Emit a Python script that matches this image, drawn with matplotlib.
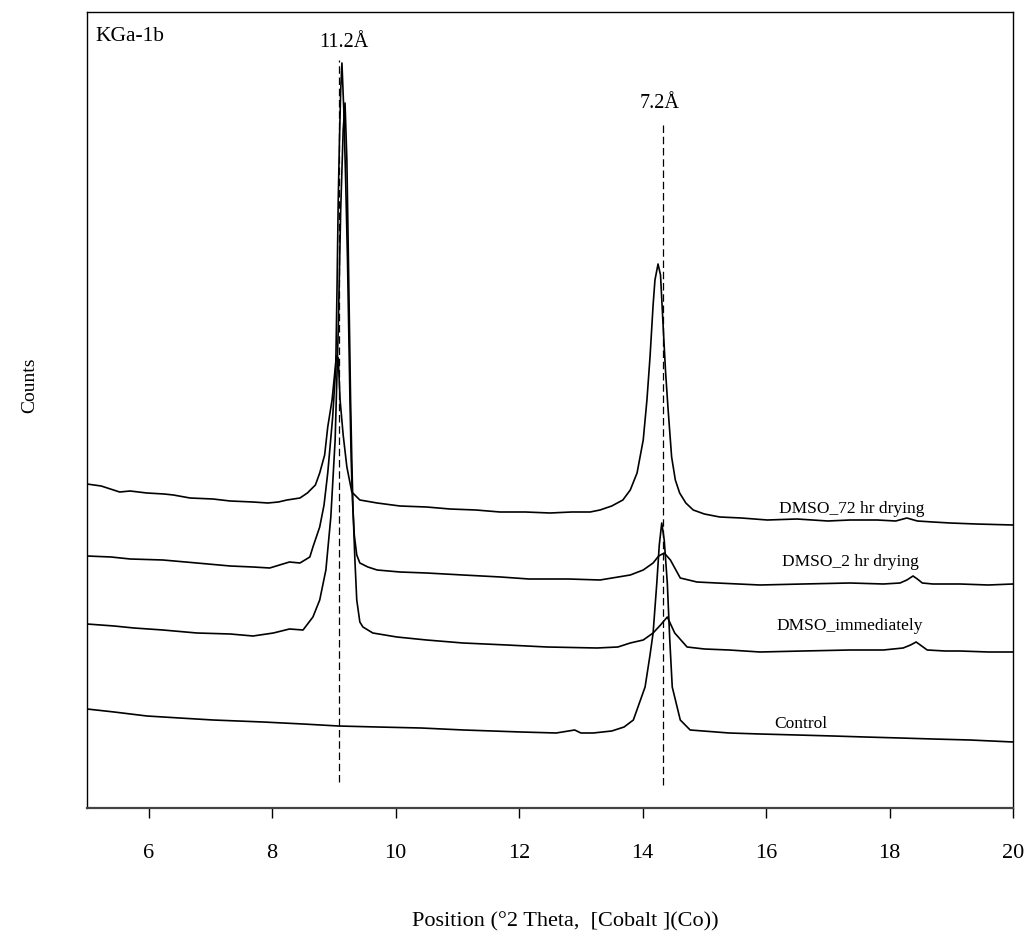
import numpy as np
import matplotlib
matplotlib.use("Agg")
import matplotlib.pyplot as plt

# values (counts are arbitrary, traces already stacked)
theta_72hr = [5.00, 5.23, 5.53, 5.70, 5.97, 6.25, 6.40, 6.67, 7.04, 7.32, 7.69, 7.93, 8.10, 8.24,
              8.45, 8.57, 8.70, 8.77, 8.85, 8.90, 8.97, 9.01, 9.04, 9.07, 9.10, 9.15, 9.21, 9.29,
              9.42, 9.70, 10.07, 10.50, 10.88, 11.30, 11.69, 12.10, 12.50, 12.85, 13.15, 13.31,
              13.50, 13.68, 13.80, 13.91, 14.01, 14.07, 14.12, 14.17, 14.20, 14.25, 14.29, 14.33,
              14.37, 14.41, 14.47, 14.53, 14.60, 14.70, 14.82, 15.00, 15.25, 15.60, 16.02, 16.50,
              17.00, 17.36, 17.80, 18.10, 18.28, 18.45, 18.70, 18.98, 19.40, 20.00]
counts_72hr = [324, 322, 316, 317, 315, 314, 313, 310, 309, 307, 306, 305, 306, 308,
               310, 315, 323, 335, 353, 381, 408, 433, 452, 450, 408, 373, 341, 316,
               308, 305, 302, 301, 299, 298, 296, 296, 295, 296, 296, 298,
               302, 308, 318, 335, 368, 408, 451, 503, 528, 544, 533, 485,
               438, 401, 351, 328, 315, 305, 298, 294, 291, 290, 288, 289,
               287, 288, 288, 287, 290, 287, 286, 285, 284, 283]

theta_2hr = [5.00, 5.39, 5.70, 6.23, 6.78, 7.32, 7.69, 7.96, 8.28, 8.45, 8.61, 8.66, 8.77, 8.84,
             8.90, 8.98, 9.03, 9.05, 9.07, 9.09, 9.11, 9.13, 9.16, 9.19, 9.22, 9.24, 9.26, 9.28,
             9.30, 9.33, 9.37, 9.42, 9.55, 9.70, 10.07, 10.50, 11.09, 11.70, 12.16, 12.80, 13.31,
             13.80, 14.01, 14.17, 14.26, 14.35, 14.45, 14.61, 14.88, 15.20, 15.90, 16.60, 17.36,
             17.90, 18.17, 18.28, 18.38, 18.45, 18.53, 18.70, 19.14, 19.60, 20.00]
counts_2hr = [252, 251, 249, 248, 245, 242, 241, 240, 246, 245, 251, 261, 281, 303,
              335, 391, 441, 518, 608, 668, 718, 745, 698, 628, 548, 478, 408, 348,
              308, 273, 253, 245, 241, 238, 236, 235, 233, 231, 229, 229, 228,
              233, 238, 245, 252, 255, 248, 230, 226, 225, 223, 224, 225,
              224, 225, 228, 232, 229, 225, 224, 224, 223, 224]

theta_imm = [5.00, 5.44, 5.76, 6.23, 6.78, 7.32, 7.69, 8.02, 8.28, 8.50, 8.66, 8.77, 8.87, 8.95,
             9.02, 9.07, 9.11, 9.15, 9.18, 9.21, 9.23, 9.25, 9.27, 9.29, 9.31, 9.34, 9.37, 9.42,
             9.47, 9.63, 10.02, 10.50, 11.09, 11.80, 12.45, 13.26, 13.60, 13.80, 14.01, 14.17,
             14.29, 14.40, 14.52, 14.72, 15.00, 15.40, 15.90, 16.60, 17.36, 17.90, 18.22, 18.34,
             18.43, 18.52, 18.61, 18.90, 19.14, 19.60, 20.00]
counts_imm = [184, 182, 180, 178, 175, 174, 172, 175, 179, 178, 191, 208, 238, 291,
              368, 478, 598, 678, 705, 648, 568, 488, 408, 348, 298, 248, 208, 186,
              181, 175, 171, 168, 165, 163, 161, 160, 161, 165, 168, 175,
              183, 191, 175, 161, 159, 158, 156, 157, 158, 158, 160, 163,
              166, 162, 158, 157, 157, 156, 156]

theta_ctrl = [5.00, 5.44, 5.97, 6.50, 7.04, 7.85, 8.50, 9.07, 9.70, 10.41, 11.10, 12.03, 12.60,
              12.90, 13.00, 13.20, 13.50, 13.70, 13.85, 14.04, 14.12, 14.17, 14.23, 14.27, 14.31,
              14.35, 14.40, 14.44, 14.48, 14.61, 14.77, 14.98, 15.40, 15.90, 16.50, 17.08, 17.60,
              18.17, 18.70, 19.30, 20.00]
counts_ctrl = [99, 96, 92, 90, 88, 86, 84, 82, 81, 80, 78, 76, 75,
               78, 75, 75, 77, 81, 88, 121, 153, 175, 225, 263, 285,
               268, 225, 168, 121, 88, 78, 77, 75, 74, 73, 72, 71,
               70, 69, 68, 66]

trace_labels = ["DMSO_72 hr drying", "DMSO_2 hr drying", "DMSO_immediately", "Control"]
peak_positions = [9.08, 14.33]
peak_labels = ["11.2Å", "7.2Å"]
peak_line_tops = [748, 685]
peak_line_bottoms = [26, 23]

plt.rcParams['font.family'] = ['Liberation Serif', 'DejaVu Serif']

fig = plt.figure(figsize=(10.29, 9.38), dpi=100)
ax = fig.add_axes([0.0845, 0.1386, 0.9, 0.8486])

for th, ct in [(theta_72hr, counts_72hr), (theta_2hr, counts_2hr),
               (theta_imm, counts_imm), (theta_ctrl, counts_ctrl)]:
    ax.plot(th, ct, color='black', linewidth=1.2)

ax.vlines(peak_positions, peak_line_bottoms, peak_line_tops, colors='black',
          linestyles=(0, (6, 3)), linewidth=0.9)

ax.text(9.16, 761, peak_labels[0], ha='center', va='baseline', fontsize=14.5)
ax.text(14.28, 700, peak_labels[1], ha='center', va='baseline', fontsize=14.5)
ax.text(5.13, 772, "KGa-1b", ha='left', va='center', fontsize=15.5)

label_x = [17.39, 17.36, 17.36, 16.57]
label_y = [299, 246, 182, 84]
for lx, ly, lab in zip(label_x, label_y, trace_labels):
    ax.text(lx, ly, lab, ha='center', va='center', fontsize=12.5)

ax.set_xlim(5, 20)
ax.set_ylim(0, 796)
ax.set_xticks(np.arange(6, 21, 2))
ax.set_yticks([])
ax.tick_params(axis='x', direction='out', length=7, width=1, pad=19, labelsize=16)
for s in ax.spines.values():
    s.set_linewidth(1.0)
ax.spines['bottom'].set_color('#444444')
ax.spines['bottom'].set_linewidth(1.6)

ax.set_xlabel("Position (°2 Theta,  [Cobalt ](Co))", fontsize=16, va='top')
ax.xaxis.set_label_coords(0.517, -0.131)
ax.set_ylabel("Counts", fontsize=14)
ax.yaxis.set_label_coords(-0.053, 0.531)

fig.savefig("out.png", dpi=100)
